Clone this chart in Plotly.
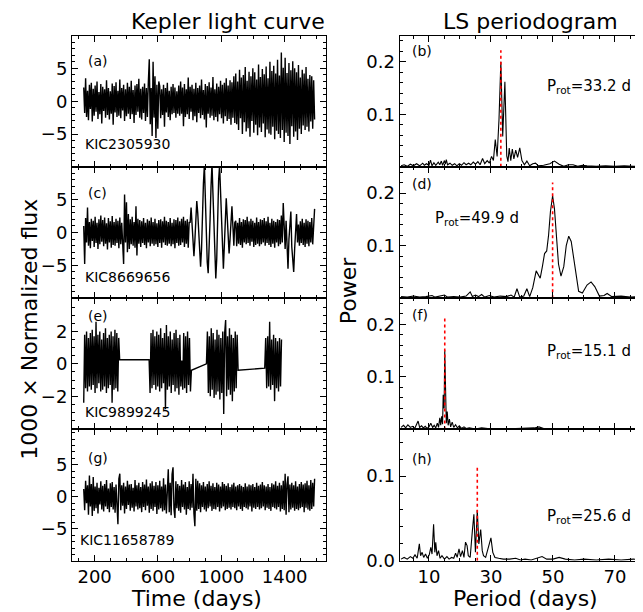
import numpy as np
import plotly.graph_objects as go

W, H = 643, 612
FONT = "DejaVu Sans"

# ---------------- light curve data (1000 x normalized flux) ----------------
lc_start, lc_end = 131, 1589

flux_a = [
    2.1,-1.8,3.5,-2.4,1.6,-2.9,2.5,-1.2,2.8,-3.1,1.9,-2.2,2.4,-1.6,3.0,-2.7,1.4,-2.0,2.6,-3.4,
    2.2,-1.5,1.8,-2.5,3.2,-2.1,2.0,-2.8,1.5,-1.9,2.7,-3.6,2.3,-1.7,2.9,-2.4,1.6,-2.2,3.3,-2.6,
    2.0,-1.4,2.5,-3.0,1.8,-2.3,2.8,-1.9,2.2,-2.7,3.1,-2.0,1.7,-3.3,2.4,-2.1,2.6,-1.6,3.4,-2.5,
    1.9,-2.8,2.2,-1.8,2.7,-3.0,2.0,-2.4,2.9,
    6.4,-3.5,2.0,-5.3,6.0,-2.5,3.8,-5.6,2.5,-4.2,3.0,
    2.3,-2.6,1.8,-2.1,2.5,-3.9,2.0,-1.7,2.8,-2.4,1.6,-2.9,2.2,-2.0,2.6,-1.8,2.1,-2.5,1.5,-1.9,
    2.4,-2.2,3.0,-1.9,2.1,-3.8,2.6,-2.4,1.8,-2.0,3.6,-2.7,2.2,-1.6,2.5,-2.9,1.9,-2.3,2.8,-3.2,
    2.0,-1.8,2.4,-2.6,3.3,-2.1,1.7,-2.8,2.6,-4.0,2.3,-1.9,2.9,-2.5,2.1,-2.2,3.7,-2.9,1.8,-2.4,
    2.7,-3.1,2.2,-2.0,3.1,-2.6,2.5,-3.4,2.8,-2.3,3.5,-3.0,2.4,-2.7,3.2,-3.6,2.9,-2.5,3.8,-3.3,
    4.2,-3.5,3.0,-4.4,4.8,-2.6,3.6,-5.0,4.0,-3.2,5.2,-4.6,3.1,-4.1,4.5,-5.4,3.8,-3.0,5.0,-4.8,
    4.4,-3.6,3.3,-5.2,5.6,-4.0,3.7,-4.7,4.9,-3.4,4.1,-5.5,5.3,-4.3,3.5,-4.9,6.0,-5.1,4.6,-3.9,
    5.4,-5.8,4.2,-4.5,6.3,-5.0,3.9,-5.6,7.4,-4.4,5.1,-6.2,6.6,-4.8,4.3,-5.3,5.8,-6.5,4.7,-3.8,
    6.1,-5.4,5.0,-4.6,4.4,-5.9,5.5,-4.2,3.6,-5.0,4.8,-3.7,4.2,-4.4,5.2,-3.9,3.4,-4.6,4.0,-3.1,
    3.8,-4.2,3.2,-2.8,
]

flux_c = [
    1.0,-4.8,2.2,-1.5,3.8,-2.0,1.6,-2.4,2.1,-1.3,1.8,-2.2,2.4,-1.6,1.5,-2.5,2.0,-1.8,2.6,-1.4,
    1.9,-2.1,2.3,-1.7,1.4,-2.6,2.2,-1.5,1.7,-2.3,2.5,-1.9,1.6,-2.0,2.1,-1.6,1.8,-2.4,2.3,-1.8,
    1.5,-2.2,-4.8,5.8,-1.5,4.6,-3.0,2.8,-2.5,2.0,
    -1.8,2.4,-2.0,1.6,-2.3,4.0,-3.5,2.1,-1.7,1.9,-2.2,1.7,-1.6,2.2,-1.9,1.5,-2.4,2.0,-1.5,1.8,
    -2.1,2.3,-1.7,1.6,-2.0,2.1,-1.8,1.4,-2.2,1.9,-1.6,2.0,-2.3,1.7,-1.5,2.4,-1.9,1.8,-2.0,1.6,
    -1.7,2.2,-2.1,1.5,-1.8,2.0,-2.4,1.9,-1.6,2.3,-2.0,1.7,-1.9,2.1,-1.5,2.4,-2.2,1.8,-1.7,2.0,
    -2.3,1.6,
    1.5,3.8,0.5,-2.0,-3.6,-1.2,2.5,4.8,3.0,0.2,-3.0,-5.2,-2.5,3.5,7.5,10.3,5.0,-1.0,-4.5,-6.2,
    -3.0,2.0,7.0,10.5,6.0,0.5,-5.0,-7.0,-4.0,3.0,8.0,10.2,6.5,1.0,-3.5,-5.5,-2.0,3.0,5.2,2.5,
    -1.5,-3.2,-1.0,2.5,4.0,1.0,-2.0,1.5,
    1.8,-2.1,1.5,-1.7,2.2,-1.9,1.6,-2.3,2.0,-1.5,1.9,-1.8,2.4,-1.6,1.7,-2.0,2.1,-1.4,1.8,-2.2,
    1.5,-1.9,2.3,-1.7,1.6,-2.1,2.0,-1.8,1.9,-1.5,2.2,-2.0,1.7,-1.6,2.4,-1.9,1.5,-2.2,2.1,-1.7,
    1.8,-2.3,1.6,-1.5,2.0,-2.1,1.9,-1.8,2.6,
    -1.5,4.5,1.0,-2.5,1.8,-3.0,-5.5,-1.0,2.0,3.2,-2.2,-4.0,-6.0,-2.5,1.5,2.8,-1.5,1.2,
    -2.0,1.7,-1.6,2.1,-1.9,1.5,-2.2,2.0,-1.7,1.8,-2.1,1.6,-1.5,2.2,-1.8,2.4,3.6,
]

# KIC9899245 has four observing blocks
seg_start_e = [131, 544, 906, 1274]
seg_end_e = [358, 811, 1106, 1380]
flux_e1 = [
    -2.4,1.8,-1.5,2.0,-1.7,1.6,-1.4,1.9,-1.6,2.1,-1.3,1.7,-1.8,2.6,-1.5,1.8,-1.2,2.0,-1.7,1.5,
    -1.6,1.9,-1.4,2.2,-1.8,1.6,-1.5,1.8,-1.3,2.0,-2.4,1.7,-1.6,2.1,-1.5,1.9,-1.7,1.6,0.25,
]
flux_e2 = [
    0.25,-1.8,1.9,-1.5,2.1,-1.3,1.7,-1.6,2.0,-1.4,1.8,-1.7,2.2,-1.5,1.6,-1.2,1.9,-2.8,2.4,-1.6,
    1.7,-1.4,2.0,-1.8,1.5,-1.3,1.9,-1.7,2.1,-1.5,1.6,-1.9,1.8,-1.4,0.2,-1.6,1.9,-1.5,1.7,-1.8,
    2.0,-1.3,1.6,-1.7,-0.4,
]
flux_e3 = [
    0.0,2.0,-1.8,1.7,-2.0,2.2,-1.6,1.9,-2.1,1.5,-1.9,2.1,-1.7,1.8,-2.2,1.6,-1.8,2.0,-3.1,1.9,
    2.7,-2.0,1.7,-1.6,2.2,-1.9,1.8,-2.3,1.6,-1.7,2.0,-1.5,1.8,-0.4,
]
flux_e4 = [
    -0.27,1.6,-1.5,1.7,-1.4,2.6,-1.6,1.5,-1.3,1.8,-2.3,1.6,-1.5,1.4,-1.7,1.6,-1.4,1.5,
]

flux_g = [
    1.2,-2.1,2.5,-1.0,1.8,-2.8,3.3,-1.5,2.0,-3.0,3.1,-2.2,1.6,-1.8,2.2,-2.6,1.4,-1.2,2.4,-2.0,
    1.7,-2.3,2.0,-1.5,2.6,-1.9,1.3,-2.4,2.1,-1.6,2.3,-2.0,1.5,-2.5,1.9,-1.7,-4.3,2.8,3.6,-2.1,
    1.8,-1.4,2.2,-2.6,1.6,-1.9,2.5,-1.3,1.9,-2.2,2.0,-1.7,1.4,-2.3,2.6,-1.5,1.8,-2.0,2.2,-1.8,
    1.5,-2.4,2.3,-1.6,1.9,-2.1,2.7,-1.4,1.6,-2.5,2.1,-1.9,2.4,-2.2,1.7,-1.6,2.3,-2.7,1.8,-2.0,
    2.5,-1.8,1.6,-2.3,2.9,-2.1,1.9,-2.6,3.0,4.3,-2.4,2.2,-2.9,3.5,4.6,-2.0,-3.3,2.4,-1.8,2.0,
    -2.2,1.7,-2.5,2.6,-1.6,1.9,-2.0,2.3,-2.8,1.5,-1.9,2.4,-2.1,2.0,-1.7,3.6,-2.6,-4.6,2.8,-2.2,
    2.5,-1.9,2.1,-2.4,1.8,-1.6,2.3,-2.0,1.6,-2.3,2.0,-1.8,2.4,-1.5,1.7,-2.2,2.1,-1.9,1.5,-2.0,
    2.2,-1.6,1.9,-2.3,1.6,-1.8,2.3,-1.5,2.0,-2.1,1.7,-1.9,2.1,-1.7,1.5,-2.0,1.9,-1.6,2.2,-1.8,
    1.6,-2.1,1.8,-1.5,2.0,-1.9,1.7,-2.2,1.5,-1.6,2.1,-1.8,1.6,-2.0,1.9,-1.5,1.8,-2.3,2.0,-1.7,
    1.5,-1.9,2.2,-1.6,1.7,-2.0,1.9,-1.8,2.3,-1.5,1.8,-2.1,1.6,-1.7,2.0,-1.9,1.5,-2.2,2.1,-1.6,
    1.9,-1.8,2.4,-2.0,1.7,-1.6,2.2,-2.3,1.8,-1.9,2.5,-2.1,3.6,-2.8,2.0,3.2,-2.4,1.9,-2.0,2.2,
    -1.7,1.8,-2.2,2.4,-1.9,1.6,-2.1,2.0,-1.8,2.3,-1.6,1.9,-2.4,2.1,-1.7,2.5,-2.0,1.8,-2.2,2.6,
    -1.9,2.2,-1.5,2.8,
]

# ---------------- Lomb-Scargle periodograms ----------------
period_b = [1,2,3,4,5,6,7,8,8.5,9.2,10,10.5,11,11.6,12.2,13,13.5,14,14.4,15,15.3,15.6,16,16.8,
            17.5,18.3,19,19.8,20.5,21.3,22,22.8,23.5,24.3,25,25.8,26.5,27.3,28,28.8,29.5,30.2,
            30.8,31.4,32.0,32.6,33.2,33.8,34.5,35.1,35.5,35.9,36.4,36.9,37.4,38.0,38.6,39.3,40.0,
            40.8,41.6,42.5,43.5,44.4,45.3,47,49,50.5,52,53.5,55,56.5,58,59.5,61,64,67,70,73,76,79,81]
power_b = [0.002,0.004,0.001,0.005,0.002,0.006,0.002,0.007,0.003,0.006,0.003,0.013,0.002,0.008,
           0.003,0.009,0.004,0.011,0.003,0.012,0.005,0.014,0.004,0.007,0.003,0.006,0.002,0.006,
           0.003,0.008,0.004,0.007,0.004,0.009,0.005,0.010,0.004,0.016,0.006,0.012,0.007,0.020,
           0.012,0.052,0.020,0.090,0.200,0.058,0.162,0.021,0.010,0.036,0.012,0.034,0.015,0.032,
           0.018,0.036,0.012,0.004,0.011,0.002,0.006,0.007,0.002,0.003,0.006,0.011,0.005,0.001,
           0.004,0.004,0.001,0.003,0.002,0.001,0.002,0.001,0.002,0.001,0.002,0.001]

period_d = [1,3,5,7,9,11,12,14,15,16,18,20,22,23.3,24,25,26,27,28,29.5,31,33,35,36.5,37.5,38.4,
            39.3,40.6,41.6,42.5,43.5,44.6,45.3,45.9,46.6,47.3,48.0,48.6,49.2,49.9,50.5,51.1,51.8,
            52.6,53.5,54.3,55.1,55.9,56.6,57.4,58.3,59.5,61,62.3,63.5,65,66.5,67.5,69,72,75,78,81]
power_d = [0.003,0.002,0.004,0.002,0.003,0.005,0.002,0.004,0.006,0.002,0.003,0.002,0.004,0.012,
           0.003,0.006,0.003,0.007,0.002,0.005,0.002,0.004,0.003,0.006,0.002,0.018,0.002,0.004,
           0.018,0.003,0.020,0.052,0.045,0.038,0.060,0.085,0.090,0.120,0.165,0.195,0.170,0.115,
           0.065,0.042,0.060,0.100,0.118,0.108,0.080,0.040,0.013,0.010,0.025,0.031,0.022,0.004,
           0.005,0.009,0.003,0.004,0.002,0.003,0.002]

period_f = [1,1.8,2.5,3.2,4,4.7,5.4,6.0,6.5,7,7.6,8.2,8.8,9.4,10,10.6,11.2,11.7,12.2,12.7,13.1,
            13.5,13.8,14.1,14.4,14.6,14.9,15.1,15.35,15.6,15.9,16.2,16.6,17,17.5,18,18.6,19.2,
            19.8,20.5,21.3,22,23,25,27,29,32,35,38,41,44,45.5,47,50,54,58,62,66,70,75,81]
power_f = [0.004,0.008,0.003,0.009,0.004,0.006,0.002,0.010,0.016,0.004,0.007,0.003,0.006,0.002,
           0.005,0.012,0.004,0.008,0.003,0.012,0.004,0.022,0.008,0.025,0.010,0.066,0.040,0.151,
           0.030,0.012,0.034,0.008,0.020,0.005,0.014,0.004,0.009,0.003,0.007,0.002,0.005,0.002,
           0.003,0.001,0.003,0.002,0.002,0.001,0.002,0.002,0.003,0.005,0.002,0.002,0.001,0.002,
           0.001,0.002,0.001,0.002,0.001]

period_h = [1,2,3,4,4.8,5.5,6.2,6.9,7.3,7.8,8.3,8.9,9.5,10.1,10.6,11.0,11.5,11.9,12.2,12.6,13.1,
            13.6,14.2,15,15.8,16.5,17.3,18,18.6,19.1,19.7,20.2,20.8,21.3,21.8,22.3,22.7,23.3,24.0,
            24.5,25.0,25.6,26.1,26.7,27.2,27.6,28.3,29.2,30.0,30.6,31.3,32.5,34,36,38,39.5,41,43,
            45,46.5,48,50,52,54,57,60,64,68,72,76,81]
power_h = [0.002,0.004,0.002,0.005,0.003,0.007,0.003,0.020,0.006,0.010,0.004,0.008,0.003,0.007,
           0.016,0.008,0.043,0.010,0.022,0.006,0.012,0.003,0.006,0.002,0.005,0.002,0.004,0.003,
           0.009,0.004,0.014,0.005,0.012,0.004,0.022,0.018,0.006,0.004,0.035,0.055,0.010,0.060,
           0.020,0.037,0.012,0.006,0.004,0.015,0.027,0.010,0.004,0.003,0.002,0.002,0.003,0.001,
           0.002,0.001,0.003,0.005,0.002,0.002,0.004,0.002,0.001,0.002,0.001,0.002,0.001,0.002,
           0.001]

star_ids = ["KIC2305930", "KIC8669656", "KIC9899245", "KIC11658789"]
left_labels = ["(a)", "(c)", "(e)", "(g)"]
right_labels = ["(b)", "(d)", "(f)", "(h)"]
prot_values = [33.2, 49.9, 15.1, 25.6]
prot_line_top = [0.222, 0.22, 0.214, 0.112]

# ---------------- build figure ----------------
def px(x):
    return x / W

def py(y):
    return 1 - y / H

row_top = [28, 161.5, 295, 428.5]
row_bot = [161.5, 295, 428.5, 562]
LX = (64, 318)
RX = (391.5, 641)

def lin_times(t0, t1, n):
    return np.linspace(t0, t1, n)

lc_times = []
lc_fluxes = []
for f in (flux_a, flux_c):
    lc_times.append(lin_times(lc_start, lc_end, len(f)))
    lc_fluxes.append(np.array(f))
e_t, e_f = [], []
for s0, s1, f in zip(seg_start_e, seg_end_e, [flux_e1, flux_e2, flux_e3, flux_e4]):
    e_t.append(lin_times(s0, s1, len(f)))
    e_f.append(np.array(f))
lc_times.append(np.concatenate(e_t))
lc_fluxes.append(np.concatenate(e_f))
lc_times.append(lin_times(lc_start, lc_end, len(flux_g)))
lc_fluxes.append(np.array(flux_g))

periods = [period_b, period_d, period_f, period_h]
powers = [power_b, power_d, power_f, power_h]

fig = go.Figure()

axis_common = dict(
    showline=True, linecolor="black", linewidth=1, mirror="allticks",
    ticks="inside", ticklen=6, tickwidth=1, tickcolor="black",
    showgrid=False, zeroline=False,
    tickfont=dict(size=18, family=FONT, color="black"),
)

layout = {}
for r in range(4):
    li, ri = 2 * r + 1, 2 * r + 2
    lx = "x" if li == 1 else f"x{li}"
    ly = "y" if li == 1 else f"y{li}"
    rx, ry = f"x{ri}", f"y{ri}"
    ydom = [py(row_bot[r]), py(row_top[r])]

    fig.add_trace(go.Scatter(x=lc_times[r], y=lc_fluxes[r], mode="lines",
                             line=dict(color="black", width=1.4),
                             xaxis=lx, yaxis=ly, showlegend=False, hoverinfo="skip"))
    fig.add_trace(go.Scatter(x=periods[r], y=powers[r], mode="lines",
                             line=dict(color="black", width=1.1),
                             xaxis=rx, yaxis=ry, showlegend=False, hoverinfo="skip"))
    fig.add_trace(go.Scatter(x=[prot_values[r], prot_values[r]], y=[0, prot_line_top[r]],
                             mode="lines", line=dict(color="red", width=1.6, dash="dot"),
                             xaxis=rx, yaxis=ry, showlegend=False, hoverinfo="skip"))

    bottom = (r == 3)
    layout["xaxis" if li == 1 else f"xaxis{li}"] = dict(
        axis_common, domain=[px(LX[0]), px(LX[1])], anchor=ly, range=[57, 1661],
        tickvals=[200, 600, 1000, 1400], ticktext=["200", "600", "1000", "1400"],
        showticklabels=bottom,
        minor=dict(ticks="inside", ticklen=3, tickcolor="black", dtick=100, tick0=0, showgrid=False),
    )
    if r == 2:
        yr, yt, ymin = [-4.05, 4.05], [-2, 0, 2], 0.5
    elif r == 3:
        yr, yt, ymin = [-10, 10.5], [-5, 0, 5], 1
    else:
        yr, yt, ymin = [-10, 10], [-5, 0, 5], 1
    layout["yaxis" if li == 1 else f"yaxis{li}"] = dict(
        axis_common, domain=ydom, anchor=lx, range=yr,
        tickvals=yt, ticktext=[("\u2212" + str(-v)) if v < 0 else str(v) for v in yt],
        minor=dict(ticks="inside", ticklen=3, tickcolor="black", dtick=ymin, tick0=0, showgrid=False),
    )
    layout[f"xaxis{ri}"] = dict(
        axis_common, domain=[px(RX[0]), px(RX[1])], anchor=ry, range=[0.5, 81],
        tickvals=[10, 30, 50, 70], ticktext=["10", "30", "50", "70"],
        showticklabels=bottom,
        minor=dict(ticks="inside", ticklen=3, tickcolor="black", dtick=5, tick0=0, showgrid=False),
    )
    if r == 3:
        pr, pt, ptt = [0, 0.155], [0, 0.1], ["0.0", "0.1"]
    else:
        pr, pt, ptt = [0, 0.25], [0.1, 0.2], ["0.1", "0.2"]
    layout[f"yaxis{ri}"] = dict(
        axis_common, domain=ydom, anchor=rx, range=pr,
        tickvals=pt, ticktext=ptt,
        minor=dict(ticks="inside", ticklen=3, tickcolor="black", dtick=0.02, tick0=0, showgrid=False),
    )

ann = []
def add_text(text, x, y, size, xanchor="left", textangle=0):
    ann.append(dict(text=text, x=px(x), y=py(y), xref="paper", yref="paper",
                    xanchor=xanchor, yanchor="middle", showarrow=False, textangle=textangle,
                    font=dict(size=size, family=FONT, color="black")))

add_text("Kepler light curve", 220, 14, 22, "center")
add_text("LS periodogram", 522, 14, 22, "center")
add_text("Time (days)", 188, 600, 22, "center")
add_text("Period (days)", 517, 600, 22, "center")
add_text("1000 \u00d7 Normalized flux", 22, 327, 22, "center", -90)
add_text("Power", 340, 287, 22, "center", -90)

left_lab_y = [54, 188, 313, 457]
kic_y = [138, 273, 411, 541]
kic_x = [75, 75, 75, 70]
right_lab_y = [44, 179, 312, 458]
prot_x = [537, 425, 537, 537]
prot_y = [80, 214, 349, 517]
for r in range(4):
    add_text(left_labels[r], 78, left_lab_y[r], 14)
    add_text(star_ids[r], kic_x[r], kic_y[r], 14)
    add_text(right_labels[r], 402, right_lab_y[r], 14)
    add_text(f"P<sub>rot</sub>={prot_values[r]} d", prot_x[r], prot_y[r], 15)

fig.update_layout(
    width=W, height=H, margin=dict(l=0, r=0, t=0, b=0),
    paper_bgcolor="white", plot_bgcolor="white",
    font=dict(family=FONT, color="black"),
    annotations=ann, **layout,
)

fig.write_html("out.html")
